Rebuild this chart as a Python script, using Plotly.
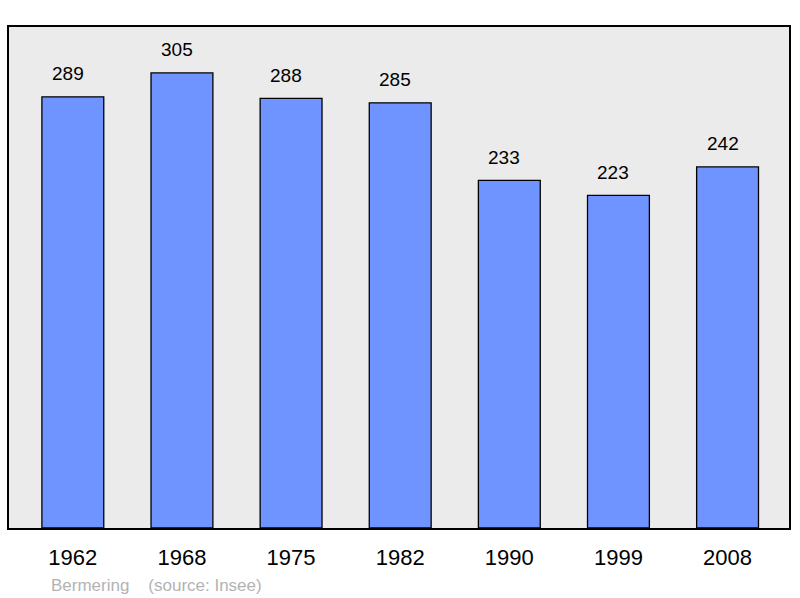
import plotly.graph_objects as go

years = ["1962", "1968", "1975", "1982", "1990", "1999", "2008"]
population = [289, 305, 288, 285, 233, 223, 242]
commune = "Bermering"
source = "(source: Insee)"

xs = list(range(len(years)))
FONT = "Liberation Sans, Arial, sans-serif"

fig = go.Figure()
fig.add_trace(go.Bar(
    x=xs, y=population, width=0.567,
    marker=dict(color="#7094ff", line=dict(color="black", width=1.3)),
    hoverinfo="skip",
))

for x, v in zip(xs, population):
    fig.add_annotation(x=x, y=v, text=str(v), showarrow=False, yanchor="middle",
                       yshift=23, xshift=-5, font=dict(family=FONT, size=19, color="black"))

plot_h = 501
fig.add_annotation(xref="paper", yref="paper", x=(49 - 9) / 782, y=-57 / plot_h,
                   xanchor="left", yanchor="middle", showarrow=False,
                   text=commune + "&nbsp;&nbsp;&nbsp;&nbsp;" + source,
                   font=dict(family=FONT, size=17, color="#b3b3b3"))

fig.update_layout(
    width=800, height=598,
    margin=dict(l=9, r=9, t=27, b=70),
    paper_bgcolor="white", plot_bgcolor="#ebebeb",
    showlegend=False,
    xaxis=dict(range=[-0.585, 6.563], tickvals=xs, ticktext=years, showgrid=False, zeroline=False,
               showline=True, mirror=True, linecolor="black", linewidth=2, ticks="",
               ticklabelstandoff=9,
               tickfont=dict(family=FONT, size=22, color="black")),
    yaxis=dict(range=[0, 335.8], showgrid=False, zeroline=False, showticklabels=False,
               showline=True, mirror=True, linecolor="black", linewidth=2, ticks=""),
)

fig.write_html("out.html", config={"displayModeBar": False},
               post_script="document.body.style.margin='0';document.body.style.overflow='hidden';")
